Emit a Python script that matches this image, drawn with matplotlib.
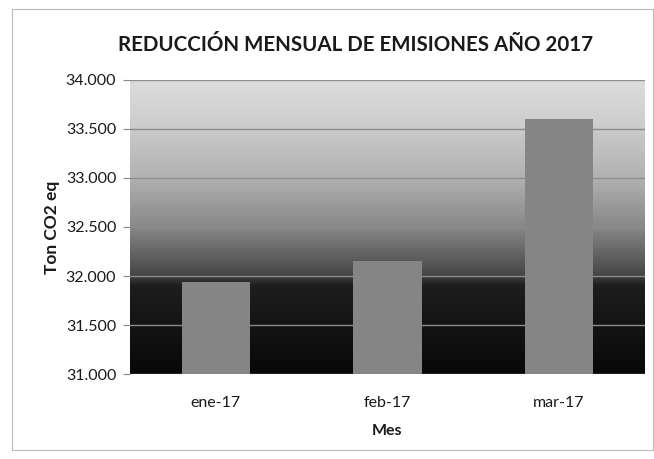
import numpy as np
import matplotlib
matplotlib.use("Agg")
import matplotlib.pyplot as plt
from matplotlib.colors import LinearSegmentedColormap
from matplotlib.patches import Rectangle
from matplotlib.ticker import FuncFormatter

months = ["ene-17", "feb-17", "mar-17"]
reduction = [31940, 32150, 33600]
y_ticks = [31000, 31500, 32000, 32500, 33000, 33500, 34000]

_BAR = "#858585"
_GRID = "#8c8c8c"
_TEXT = "#1a1a1a"

plt.rcParams["font.family"] = ["Lato", "DejaVu Sans"]

fig = plt.figure(figsize=(6.54, 4.59), dpi=100)
ax = fig.add_axes([0.199, 0.185, 0.787, 0.641])

# background gradient of the plot area (dark at bottom, light at top)
grad = LinearSegmentedColormap.from_list("bg", [
    (0.00, "#080808"),
    (0.30, "#1e1e1e"),
    (0.34, "#484848"),
    (0.50, "#888888"),
    (0.67, "#b2b2b2"),
    (0.85, "#cdcdcd"),
    (1.00, "#dddddd"),
])
ax.imshow(np.linspace(0, 1, 256).reshape(-1, 1), cmap=grad, origin="lower",
          aspect="auto", extent=[0, 1, 0, 1], transform=ax.transAxes, zorder=0)

x = np.arange(len(months))
ax.bar(x, reduction, width=0.4, color=_BAR, zorder=3)

ax.set_xlim(-0.5, len(months) - 0.5)
ax.set_ylim(y_ticks[0], y_ticks[-1])
ax.set_yticks(y_ticks)
ax.yaxis.set_major_formatter(FuncFormatter(lambda v, _p: f"{v:,.0f}".replace(",", ".")))
ax.set_xticks(x)
ax.set_xticklabels(months)
ax.grid(axis="y", color=_GRID, linewidth=1.0, zorder=1)
ax.set_axisbelow(True)
for s in ax.spines.values():
    s.set_visible(False)
ax.tick_params(axis="y", length=5, color="#888888", labelsize=11.5, labelcolor=_TEXT, pad=5)
ax.tick_params(axis="x", length=0, labelsize=11.5, labelcolor=_TEXT, pad=16)

ax.set_xlabel("Mes", fontsize=11.5, fontweight="bold", color=_TEXT, labelpad=10)
ax.set_ylabel("Ton CO2 eq", fontsize=12.5, fontweight="bold", color=_TEXT, labelpad=4)

fig.text(0.543, 0.902, "REDUCCIÓN MENSUAL DE EMISIONES AÑO 2017",
         ha="center", va="center", fontsize=14.75, fontweight="bold", color=_TEXT)

# thin chart-area border
fig.patches.append(Rectangle((0.018, 0.02), 0.98, 0.96, transform=fig.transFigure,
                             fill=False, edgecolor="#bbbbbb", linewidth=0.8))

fig.savefig("out.png", dpi=100, facecolor="white")
